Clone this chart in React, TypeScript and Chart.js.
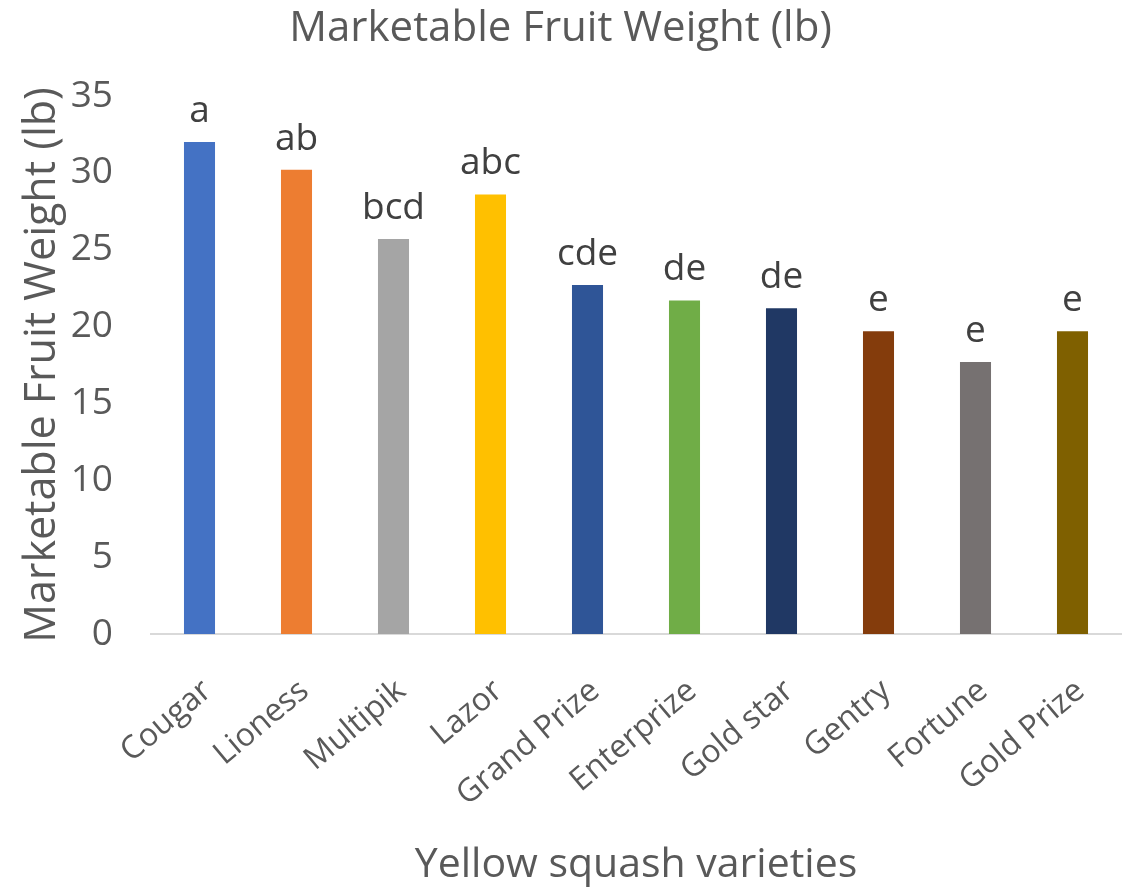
import React, { useEffect, useRef } from "react";
import { Chart, registerables } from "chart.js";

Chart.register(...registerables);

const categories = ["Cougar", "Lioness", "Multipik", "Lazor", "Grand Prize", "Enterprize", "Gold star", "Gentry", "Fortune", "Gold Prize"];
const weights = [32.0, 30.2, 25.7, 28.6, 22.7, 21.7, 21.2, 19.7, 17.7, 19.7];
const letters = ["a", "ab", "bcd", "abc", "cde", "de", "de", "e", "e", "e"];
const barColors = ["#4472C4", "#ED7D31", "#A5A5A5", "#FFC000", "#2F5597", "#70AD47", "#203864", "#843C0C", "#767171", "#7F6000"];
const yMin = 0;
const yMax = 35;
const yStep = 5;

const W = 1133;
const H = 893;
const FONT = "'Open Sans', 'Noto Sans', sans-serif";

const letterPlugin = {
  id: "letterLabels",
  afterDatasetsDraw(chart: any) {
    const ctx = chart.ctx;
    const meta = chart.getDatasetMeta(0);
    ctx.save();
    ctx.font = `37px ${FONT}`;
    ctx.fillStyle = "#404040";
    ctx.textAlign = "center";
    ctx.textBaseline = "alphabetic";
    meta.data.forEach((el: any, i: number) => {
      ctx.fillText(letters[i], el.x, el.y - 20);
    });
    ctx.restore();
  },
};

export default function App() {
  const ref = useRef<HTMLCanvasElement | null>(null);
  useEffect(() => {
    if (!ref.current) return;
    const chart = new Chart(ref.current, {
      type: "bar",
      data: {
        labels: categories,
        datasets: [
          {
            data: weights,
            backgroundColor: barColors,
            borderWidth: 0,
            barPercentage: 0.32,
            categoryPercentage: 1,
          },
        ],
      },
      plugins: [letterPlugin],
      options: {
        responsive: false,
        animation: false,
        devicePixelRatio: 1,
        layout: { padding: { left: 0, right: 12, top: 0, bottom: 0 } },
        plugins: {
          legend: { display: false },
          tooltip: { enabled: false },
          title: {
            display: true,
            text: "Marketable Fruit Weight (lb)",
            color: "#595959",
            font: { family: FONT, size: 42, weight: "normal", lineHeight: 1.0 },
            padding: { top: 8, bottom: 46 },
          },
        },
        scales: {
          x: {
            grid: { display: false },
            border: { display: true, color: "#D9D9D9", width: 2 },
            ticks: {
              color: "#595959",
              font: { family: FONT, size: 32 },
              maxRotation: 40,
              minRotation: 40,
              autoSkip: false,
              padding: 30,
              labelOffset: 8,
            },
            title: {
              display: true,
              text: "Yellow squash varieties",
              color: "#595959",
              font: { family: FONT, size: 41 },
              padding: { top: 0, bottom: 3 },
            },
            afterFit(scale: any) {
              scale.height = H - 634;
            },
          },
          y: {
            min: yMin,
            max: yMax,
            grid: { display: false, drawTicks: false },
            border: { display: false },
            ticks: {
              stepSize: yStep,
              color: "#595959",
              font: { family: FONT, size: 37 },
              padding: 38,
            },
            title: {
              display: true,
              text: "Marketable Fruit Weight (lb)",
              color: "#595959",
              font: { family: FONT, size: 43 },
              padding: { top: 17, bottom: 0 },
            },
            afterFit(scale: any) {
              scale.width = 151;
            },
          },
        },
      },
    });
    return () => chart.destroy();
  }, []);
  return (
    <div style={{ position: "absolute", left: 0, top: 0, width: W, height: H, background: "#fff" }}>
      <canvas ref={ref} width={W} height={H} style={{ display: "block", width: W, height: H }} />
    </div>
  );
}
